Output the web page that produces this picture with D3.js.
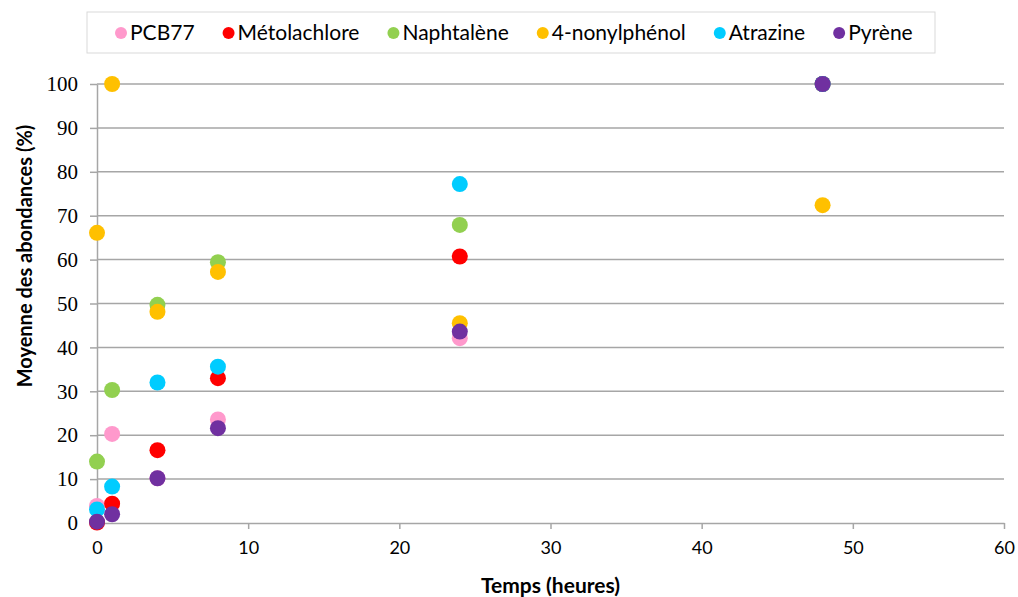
<!DOCTYPE html>
<html>
<head>
<meta charset="utf-8">
<script src="https://cdn.jsdelivr.net/npm/d3@7"></script>
<style>
  body { margin: 0; background: #fff; }
  svg { display: block; }
</style>
</head>
<body>
<svg id="chart" width="1018" height="597"></svg>
<script>
// time points (hours)
var temps = [0, 1, 4, 8, 24, 48];

// mean abundances (%), one list per compound
var pcb77        = [3.9, 20.3, 10.2, 23.6, 42.1, 100];
var metolachlore = [0.1, 4.4, 16.6, 33.0, 60.7, 100];
var naphtalene   = [14.0, 30.3, 49.7, 59.4, 67.9, 100];
var nonylphenol  = [66.1, 100, 48.1, 57.2, 45.5, 72.4];
var atrazine     = [3.1, 8.3, 32.0, 35.6, 77.2, 100];
var pyrene       = [0.3, 2.0, 10.2, 21.6, 43.6, 100];

var seriesNames  = ["PCB77", "Métolachlore", "Naphtalène", "4-nonylphénol", "Atrazine", "Pyrène"];
var seriesValues = [pcb77, metolachlore, naphtalene, nonylphenol, atrazine, pyrene];
var seriesColors = ["#ff99cc", "#ff0000", "#92d050", "#ffc000", "#00ccff", "#7030a0"];

var xTicks = [0, 10, 20, 30, 40, 50, 60];
var yTicks = [0, 10, 20, 30, 40, 50, 60, 70, 80, 90, 100];

var svg = d3.select("#chart");
var margin = {left: 97, right: 14, top: 84, bottom: 74};
var W = +svg.attr("width"), H = +svg.attr("height");

var x = d3.scaleLinear().domain([0, 60]).range([margin.left, W - margin.right]);
var y = d3.scaleLinear().domain([0, 100]).range([H - margin.bottom, margin.top]);

var gridColor = "#a6a6a6";
var sansFont = "Lato, 'Open Sans', sans-serif";

//***************************************************************************
// grid + y axis

var yAxis = svg.append("g")
    .attr("transform", "translate(" + x(0) + ",0)")
    .call(d3.axisLeft(y).tickValues(yTicks).tickSize(7).tickSizeOuter(0));
yAxis.select(".domain").attr("stroke", gridColor).attr("stroke-width", 1.5);
yAxis.selectAll(".tick line").attr("stroke", gridColor).attr("stroke-width", 1.5);
yAxis.selectAll(".tick text")
    .attr("x", -19)
    .attr("font-family", "'Liberation Serif', 'Times New Roman', serif")
    .attr("font-size", 21)
    .attr("fill", "#000");

svg.append("g").selectAll("line")
    .data(yTicks.filter(function(d) { return d > 0; }))
    .enter().append("line")
    .attr("x1", x(0)).attr("x2", x(60))
    .attr("y1", function(d) { return y(d); })
    .attr("y2", function(d) { return y(d); })
    .attr("stroke", gridColor)
    .attr("stroke-width", 1.5);

//***************************************************************************
// x axis

var xAxis = svg.append("g")
    .attr("transform", "translate(0," + y(0) + ")")
    .call(d3.axisBottom(x).tickValues(xTicks).tickSize(6).tickSizeOuter(0));
xAxis.select(".domain").attr("stroke", gridColor).attr("stroke-width", 1.5);
xAxis.selectAll(".tick line").attr("stroke", gridColor).attr("stroke-width", 1.5);
xAxis.selectAll(".tick text")
    .attr("y", 18)
    .attr("font-family", sansFont)
    .attr("font-size", 18)
    .attr("fill", "#000");

//***************************************************************************
// axis titles

svg.append("text")
    .attr("x", (x(0) + x(60)) / 2)
    .attr("y", 593)
    .attr("text-anchor", "middle")
    .attr("font-family", sansFont)
    .attr("font-weight", "bold")
    .attr("font-size", 21)
    .text("Temps (heures)");

svg.append("text")
    .attr("transform", "translate(32,256) rotate(-90)")
    .attr("text-anchor", "middle")
    .attr("font-family", sansFont)
    .attr("font-weight", "bold")
    .attr("font-size", 20)
    .text("Moyenne des abondances (%)");

//***************************************************************************
// points, drawn in legend order so Pyrène sits on top

seriesValues.forEach(function(vals, i) {
    svg.append("g").selectAll("circle")
        .data(vals)
        .enter().append("circle")
        .attr("cx", function(d, j) { return x(temps[j]); })
        .attr("cy", function(d) { return y(d); })
        .attr("r", 8)
        .attr("fill", seriesColors[i]);
});

//***************************************************************************
// legend

var legend = svg.append("g");
var box = legend.append("rect")
    .attr("fill", "#fff")
    .attr("stroke", "#d9d9d9")
    .attr("stroke-width", 1);

var lx = 121;
seriesNames.forEach(function(name, i) {
    legend.append("circle")
        .attr("cx", lx).attr("cy", 33).attr("r", 6)
        .attr("fill", seriesColors[i]);
    var t = legend.append("text")
        .attr("x", lx + 9)
        .attr("y", 40)
        .attr("font-family", sansFont)
        .attr("font-size", 21)
        .attr("fill", "#000")
        .text(name);
    lx = lx + 9 + t.node().getComputedTextLength() + 34;
});
box.attr("x", 87).attr("y", 12).attr("width", 935 - 87).attr("height", 41);
</script>
</body>
</html>
